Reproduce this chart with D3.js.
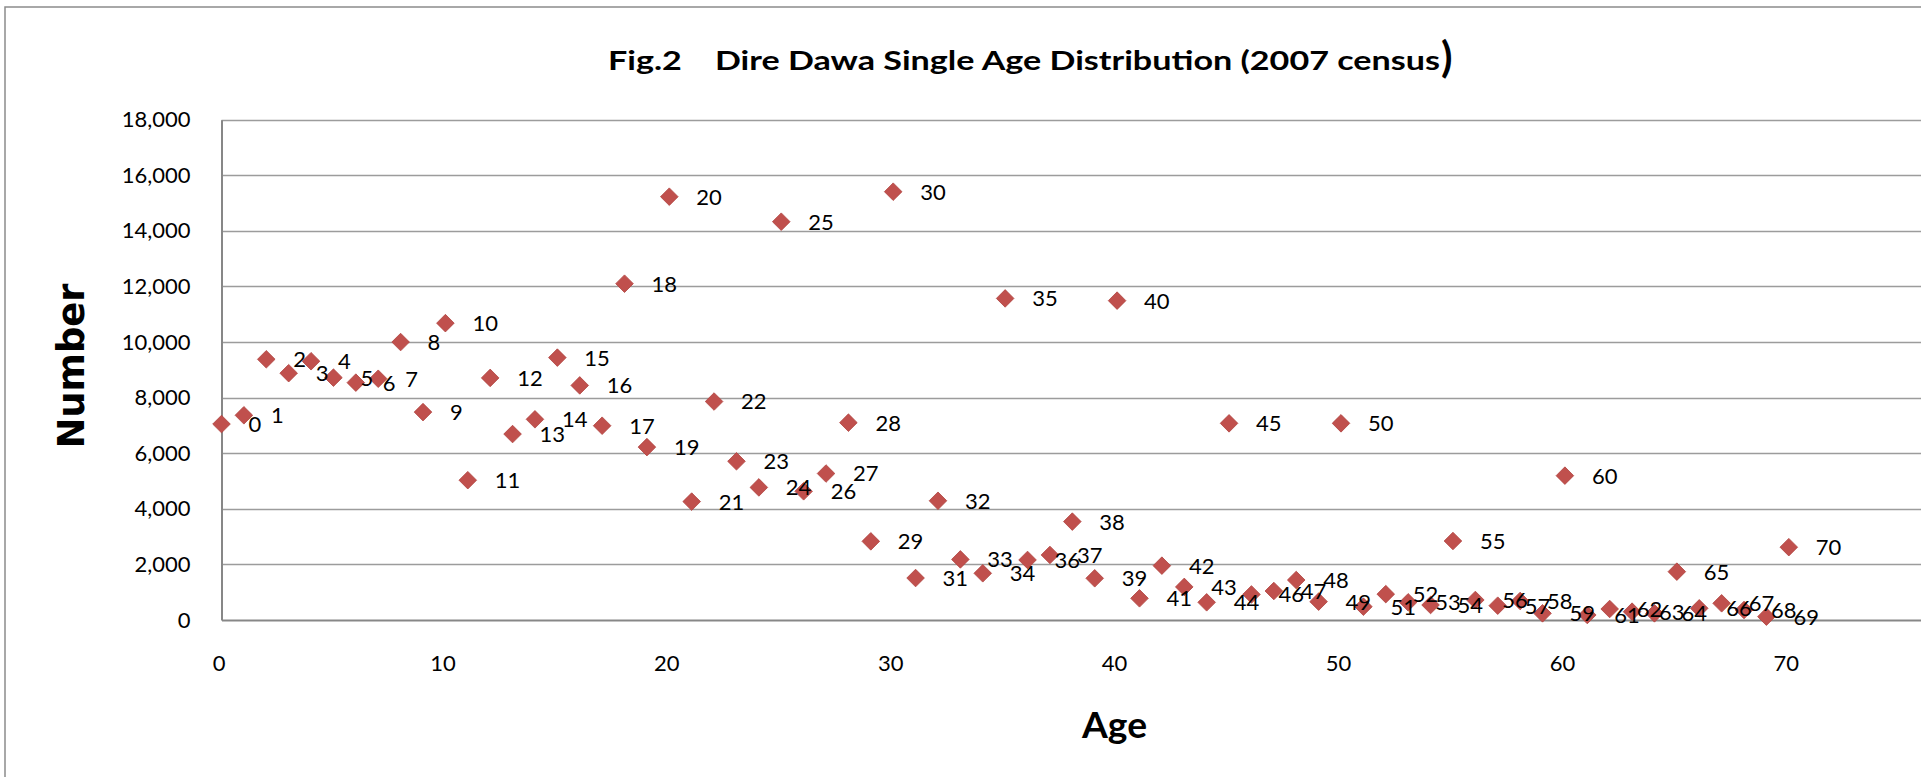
<!DOCTYPE html>
<html>
<head>
<meta charset="utf-8">
<script src="https://cdn.jsdelivr.net/npm/d3@7"></script>
<style>
  body { margin: 0; background: #fff; }
  svg { display: block; }
</style>
</head>
<body>
<svg width="1921" height="777"></svg>
<script>
// ages (x) and population count (y)
var ages = [0, 1, 2, 3, 4, 5, 6, 7, 8, 9,
            10, 11, 12, 13, 14, 15, 16, 17, 18, 19,
            20, 21, 22, 23, 24, 25, 26, 27, 28, 29,
            30, 31, 32, 33, 34, 35, 36, 37, 38, 39,
            40, 41, 42, 43, 44, 45, 46, 47, 48, 49,
            50, 51, 52, 53, 54, 55, 56, 57, 58, 59,
            60, 61, 62, 63, 64, 65, 66, 67, 68, 69, 70];

var counts = [7050, 7365, 9380, 8880, 9310, 8720, 8540, 8680, 10000, 7480,
              10680, 5030, 8710, 6690, 7220, 9440, 8440, 6990, 12100, 6220,
              15230, 4260, 7860, 5710, 4770, 14330, 4630, 5270, 7100, 2830,
              15410, 1510, 4290, 2180, 1680, 11570, 2160, 2340, 3540, 1500,
              11490, 780, 1955, 1190, 636, 7076, 920, 1043, 1439, 660,
              7076, 480, 930, 636, 540, 2842, 720, 515, 684, 240,
              5193, 180, 396, 300, 240, 1739, 420, 600, 360, 120, 2620];

// the 80 tick sits outside the cropped picture, so only 0..70 are labelled
var xTicks = [0, 10, 20, 30, 40, 50, 60, 70];
var yTicks = [0, 2000, 4000, 6000, 8000, 10000, 12000, 14000, 16000, 18000];

var titleText = "Fig.2    Dire Dawa Single Age Distribution (2007 census";

var data = ages.map(function(a, i) { return {age: a, n: counts[i]}; });

var svg = d3.select("svg");

// chart frame (runs off the right and bottom of the picture)
svg.append("rect")
  .attr("x", 5).attr("y", 7)
  .attr("width", 3000).attr("height", 3000)
  .attr("fill", "#fff")
  .attr("stroke", "#8c8c8c")
  .attr("stroke-width", 1.5);

var x = d3.scaleLinear().domain([0, 80]).range([221.5, 221.5 + 80 * 22.39]);
var y = d3.scaleLinear().domain([0, 18000]).range([620, 119.7]);

// gridlines
svg.append("g")
  .selectAll("line")
  .data(yTicks.slice(1))
  .enter().append("line")
  .attr("x1", x(0)).attr("x2", 1921)
  .attr("y1", function(d) { return Math.round(y(d)) + 0.5; })
  .attr("y2", function(d) { return Math.round(y(d)) + 0.5; })
  .attr("stroke", "#9c9c9c")
  .attr("stroke-width", 1.3);

// y axis
var yAxis = svg.append("g")
  .attr("transform", "translate(" + x(0) + ",0)")
  .call(d3.axisLeft(y).tickValues(yTicks).tickFormat(d3.format(",")).tickSize(0).tickPadding(31));
yAxis.select(".domain").attr("stroke", "#878787").attr("stroke-width", 2);
yAxis.selectAll("text")
  .attr("font-family", "Lato, 'Liberation Sans', sans-serif")
  .attr("font-size", 22)
  .attr("fill", "#000");

// x axis
var xAxis = svg.append("g")
  .attr("transform", "translate(0," + y(0) + ")")
  .call(d3.axisBottom(x).tickValues(xTicks).tickSize(0).tickPadding(35));
xAxis.select(".domain").attr("stroke", "#878787").attr("stroke-width", 2);
xAxis.selectAll("text")
  .attr("font-family", "Lato, 'Liberation Sans', sans-serif")
  .attr("font-size", 22)
  .attr("dx", -3)
  .attr("fill", "#000");

// markers
var diamond = "M0,-8.8L8.8,0L0,8.8L-8.8,0Z";
svg.append("g")
  .selectAll("path")
  .data(data)
  .enter().append("path")
  .attr("d", diamond)
  .attr("transform", function(d) { return "translate(" + x(d.age) + "," + y(d.n) + ")"; })
  .attr("fill", "#c0504d")
  .attr("stroke", "#b0433f")
  .attr("stroke-width", 0.8);

// data labels (age)
svg.append("g")
  .selectAll("text")
  .data(data)
  .enter().append("text")
  .attr("x", function(d) { return x(d.age) + 27; })
  .attr("y", function(d) { return y(d.n); })
  .attr("dy", "0.36em")
  .attr("font-family", "Lato, 'Liberation Sans', sans-serif")
  .attr("font-size", 22)
  .attr("fill", "#000")
  .text(function(d) { return d.age; });

// title
svg.append("text")
  .attr("x", 608).attr("y", 70)
  .attr("font-family", "Lato, 'Open Sans', sans-serif")
  .attr("font-weight", "bold")
  .attr("font-size", 27)
  .attr("textLength", 832)
  .attr("lengthAdjust", "spacingAndGlyphs")
  .style("white-space", "pre")
  .text(titleText);
svg.append("text")
  .attr("x", 1441).attr("y", 72)
  .attr("font-family", "Lato, 'Open Sans', sans-serif")
  .attr("font-weight", "bold")
  .attr("font-size", 42)
  .text(")");

// axis titles
svg.append("text")
  .attr("transform", "translate(84,366) rotate(-90)")
  .attr("text-anchor", "middle")
  .attr("font-family", "'DejaVu Sans', sans-serif")
  .attr("font-weight", "bold")
  .attr("font-size", 37)
  .attr("textLength", 165)
  .attr("lengthAdjust", "spacingAndGlyphs")
  .text("Number");

svg.append("text")
  .attr("x", 1082).attr("y", 738)
  .attr("font-family", "Lato, 'Open Sans', sans-serif")
  .attr("font-weight", "bold")
  .attr("font-size", 36)
  .attr("textLength", 65)
  .attr("lengthAdjust", "spacingAndGlyphs")
  .text("Age");
</script>
</body>
</html>
